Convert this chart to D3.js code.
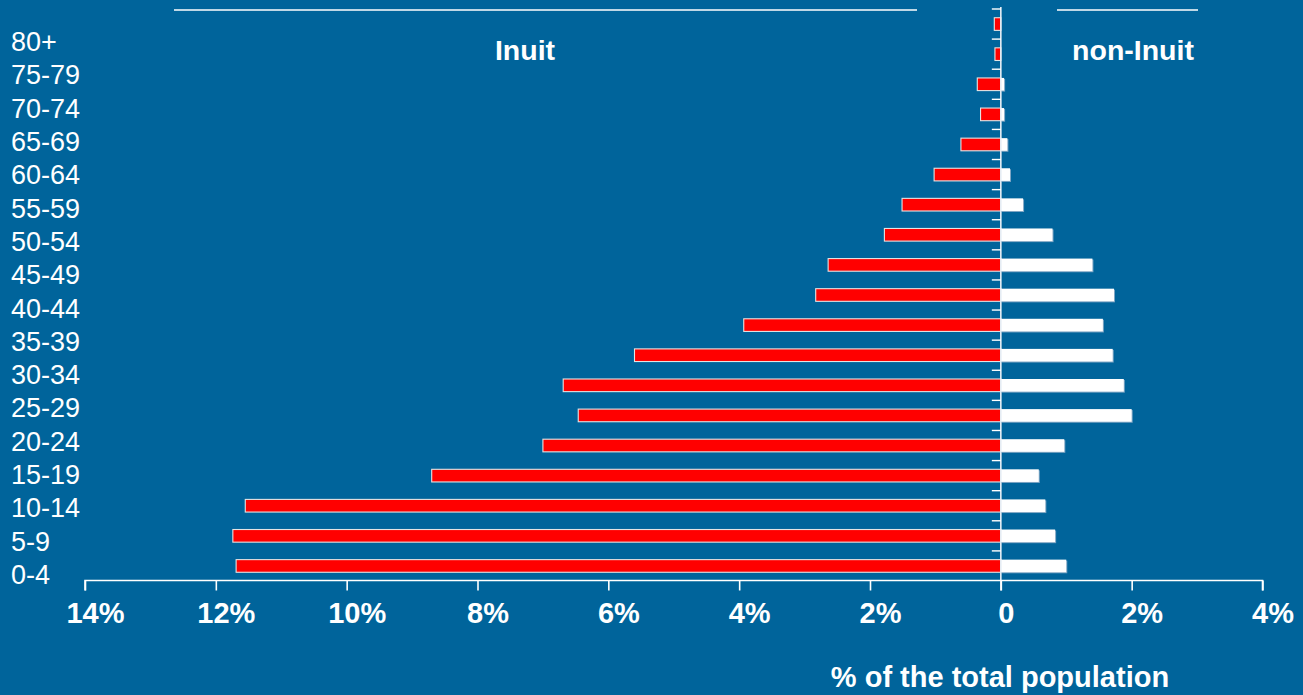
<!DOCTYPE html>
<html>
<head>
<meta charset="utf-8">
<script src="https://cdn.jsdelivr.net/npm/d3@7"></script>
<style>
  html, body { margin: 0; padding: 0; background: #00649b; }
  svg { display: block; }
  text { font-family: "Liberation Sans", Arial, Helvetica, sans-serif; fill: #ffffff; }
</style>
</head>
<body>
<svg id="chart" width="1303" height="695"></svg>
<script>
// Age bands, youngest first
const ageGroups = ["0-4", "5-9", "10-14", "15-19", "20-24", "25-29", "30-34", "35-39",
  "40-44", "45-49", "50-54", "55-59", "60-64", "65-69", "70-74", "75-79",
  "80-84", "85-89", "90+"];

// Share of the total population (%) in each age band
const inuit = [11.69, 11.74, 11.55, 8.70, 7.00, 6.46, 6.69, 5.60, 3.93, 2.83,
  2.64, 1.78, 1.51, 1.02, 0.61, 0.31, 0.36, 0.09, 0.10];
const nonInuit = [1.00, 0.83, 0.68, 0.58, 0.97, 2.00, 1.88, 1.71, 1.56, 1.73,
  1.40, 0.79, 0.34, 0.14, 0.10, 0.05, 0.05, 0.00, 0.00];

// Text column of age labels on the left
const ageLabels = ["0-4", "5-9", "10-14", "15-19", "20-24", "25-29", "30-34", "35-39",
  "40-44", "45-49", "50-54", "55-59", "60-64", "65-69", "70-74", "75-79", "80+"];

// Axis ticks (negative = Inuit side)
const xTicks = [-14, -12, -10, -8, -6, -4, -2, 0, 2, 4];

const groupTitles = ["Inuit", "non-Inuit"];
const axisTitle = "% of the total population";

const svg = d3.select("#chart");
const W = 1303, H = 695;

svg.append("rect").attr("width", W).attr("height", H).attr("fill", "#00649b");

const x = d3.scaleLinear().domain([-14, 4]).range([85, 1262.5]);
const y = d3.scaleBand()
  .domain(ageGroups.slice().reverse())
  .range([9, 581])
  .paddingInner(0.58)
  .paddingOuter(0.29);

const axisY = 580.5;

const rows = ageGroups.map((g, i) => ({ group: g, inuit: inuit[i], non: nonInuit[i] }));

// Inuit bars (left, red with light rim)
svg.append("g").selectAll("rect")
  .data(rows)
  .join("rect")
  .attr("x", d => x(-d.inuit))
  .attr("y", d => y(d.group))
  .attr("width", d => x(0) - x(-d.inuit))
  .attr("height", y.bandwidth())
  .attr("fill", "#ff0000")
  .attr("stroke", "#e4e4e4")
  .attr("stroke-width", 1.1);

// non-Inuit bars (right, white with soft shadow)
const nonG = svg.append("g");
nonG.selectAll("rect.shadow")
  .data(rows.filter(d => d.non > 0))
  .join("rect")
  .attr("class", "shadow")
  .attr("x", x(0) + 1)
  .attr("y", d => y(d.group) + 1)
  .attr("width", d => x(d.non) - x(0))
  .attr("height", y.bandwidth())
  .attr("fill", "#7fa6c4");
nonG.selectAll("rect.bar")
  .data(rows.filter(d => d.non > 0))
  .join("rect")
  .attr("class", "bar")
  .attr("x", x(0))
  .attr("y", d => y(d.group))
  .attr("width", d => x(d.non) - x(0))
  .attr("height", y.bandwidth())
  .attr("fill", "#ffffff");

// Vertical zero axis with ticks between age bands
const step = y.step();
const bandTop = y.range()[0];
const boundaries = d3.range(ageGroups.length).map(i => bandTop + i * step);
svg.append("line")
  .attr("x1", x(0)).attr("x2", x(0))
  .attr("y1", 7).attr("y2", axisY + 10)
  .attr("stroke", "#e6eef5").attr("stroke-width", 1.6);
svg.append("g").selectAll("line")
  .data(boundaries)
  .join("line")
  .attr("x1", x(0) - 9).attr("x2", x(0))
  .attr("y1", d => d).attr("y2", d => d)
  .attr("stroke", "#ffffff").attr("stroke-width", 1.4);

// Horizontal axis
const xAxis = d3.axisBottom(x)
  .tickValues(xTicks)
  .tickSize(10)
  .tickFormat(d => d === 0 ? "0" : Math.abs(d) + "%");
const gx = svg.append("g")
  .attr("transform", `translate(0,${axisY})`)
  .call(xAxis);
gx.select(".domain").attr("stroke", "#ffffff").attr("stroke-width", 1.6)
  .attr("d", `M${x(-14)},10V0H${x(4)}V10`);
gx.selectAll(".tick line").attr("stroke", "#ffffff").attr("stroke-width", 1.6);
gx.selectAll(".tick text")
  .attr("fill", "#ffffff")
  .attr("font-family", "Liberation Sans, Arial, sans-serif")
  .attr("font-size", 29)
  .attr("font-weight", "bold")
  .attr("y", 0)
  .attr("dy", 42.5)
  .attr("dx", d => d === 0 ? 5 : 10);

// Age labels
const labelY = d3.scalePoint().domain(ageLabels.slice().reverse()).range([51, 584]);
svg.append("g").selectAll("text")
  .data(ageLabels)
  .join("text")
  .attr("x", 11)
  .attr("y", d => labelY(d))
  .attr("font-size", 27)
  .text(d => d);

// Group headings with rules above them
svg.append("line").attr("x1", 174).attr("x2", 917).attr("y1", 10).attr("y2", 10)
  .attr("stroke", "#ffffff").attr("stroke-width", 1.6);
svg.append("line").attr("x1", 1057).attr("x2", 1198).attr("y1", 10).attr("y2", 10)
  .attr("stroke", "#ffffff").attr("stroke-width", 1.6);
svg.append("text").attr("x", 525).attr("y", 60).attr("text-anchor", "middle")
  .attr("font-size", 28.5).attr("font-weight", "bold").text(groupTitles[0]);
svg.append("text").attr("x", 1133).attr("y", 60).attr("text-anchor", "middle")
  .attr("font-size", 28.5).attr("font-weight", "bold").text(groupTitles[1]);

// Axis title
svg.append("text").attr("x", 1000).attr("y", 687).attr("text-anchor", "middle")
  .attr("font-size", 29).attr("font-weight", "bold").text(axisTitle);
</script>
</body>
</html>
